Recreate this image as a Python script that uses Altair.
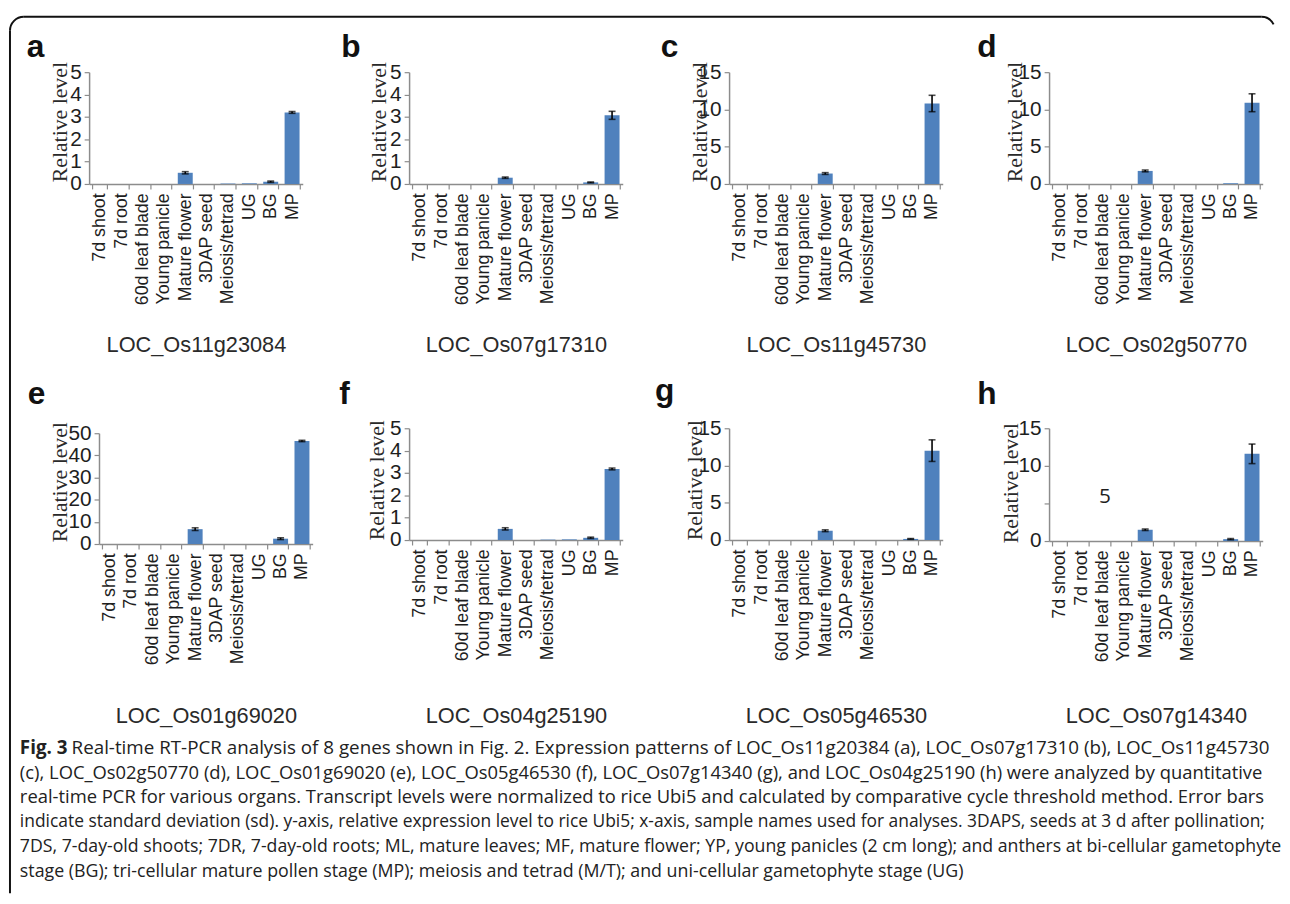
import altair as alt
import pandas as pd

# ---------------- data ----------------
categories = ["7d shoot", "7d root", "60d leaf blade", "Young panicle", "Mature flower",
              "3DAP seed", "Meiosis/tetrad", "UG", "BG", "MP"]

letters = ["a", "b", "c", "d", "e", "f", "g", "h"]
genes = ["LOC_Os11g23084", "LOC_Os07g17310", "LOC_Os11g45730", "LOC_Os02g50770",
         "LOC_Os01g69020", "LOC_Os04g25190", "LOC_Os05g46530", "LOC_Os07g14340"]

values_a = [0, 0, 0, 0, 0.50, 0, 0.02, 0.03, 0.10, 3.20]
errors_a = [0, 0, 0, 0, 0.05, 0, 0, 0, 0.03, 0.04]
values_b = [0, 0, 0, 0, 0.28, 0, 0, 0, 0.07, 3.07]
errors_b = [0, 0, 0, 0, 0.03, 0, 0, 0, 0.02, 0.18]
values_c = [0, 0, 0, 0, 1.40, 0, 0, 0, 0, 10.8]
errors_c = [0, 0, 0, 0, 0.12, 0, 0, 0, 0, 1.10]
values_d = [0, 0, 0, 0, 1.75, 0, 0, 0, 0.10, 10.9]
errors_d = [0, 0, 0, 0, 0.12, 0, 0, 0, 0, 1.20]
values_e = [0, 0, 0, 0, 6.7, 0, 0, 0, 2.4, 46.5]
errors_e = [0, 0, 0, 0, 0.6, 0, 0, 0, 0.4, 0.3]
values_f = [0, 0, 0, 0, 0.50, 0, 0.02, 0.03, 0.10, 3.18]
errors_f = [0, 0, 0, 0, 0.05, 0, 0, 0, 0.03, 0.04]
values_g = [0, 0, 0, 0, 1.25, 0, 0, 0, 0.15, 12.0]
errors_g = [0, 0, 0, 0, 0.12, 0, 0, 0, 0.05, 1.45]
values_h = [0, 0, 0, 0, 1.50, 0, 0, 0, 0.25, 11.6]
errors_h = [0, 0, 0, 0, 0.10, 0, 0, 0, 0.08, 1.30]

y_max = [5, 5, 15, 15, 50, 5, 15, 15]
y_ticks = [[0, 1, 2, 3, 4, 5], [0, 1, 2, 3, 4, 5], [0, 5, 10, 15], [0, 5, 10, 15],
           [0, 10, 20, 30, 40, 50], [0, 1, 2, 3, 4, 5], [0, 5, 10, 15], [0, 5, 10, 15]]
y_title = "Relative level"
stray_label = "5"   # panel h: the "5" tick label sits inside the plot

caption_bold = "Fig. 3"
caption_lines = [
    "Real-time RT-PCR analysis of 8 genes shown in Fig. 2. Expression patterns of LOC_Os11g20384 (a), LOC_Os07g17310 (b), LOC_Os11g45730",
    "(c), LOC_Os02g50770 (d), LOC_Os01g69020 (e), LOC_Os05g46530 (f), LOC_Os07g14340 (g), and LOC_Os04g25190 (h) were analyzed by quantitative",
    "real-time PCR for various organs. Transcript levels were normalized to rice Ubi5 and calculated by comparative cycle threshold method. Error bars",
    "indicate standard deviation (sd). y-axis, relative expression level to rice Ubi5; x-axis, sample names used for analyses. 3DAPS, seeds at 3 d after pollination;",
    "7DS, 7-day-old shoots; 7DR, 7-day-old roots; ML, mature leaves; MF, mature flower; YP, young panicles (2 cm long); and anthers at bi-cellular gametophyte",
    "stage (BG); tri-cellular mature pollen stage (MP); meiosis and tetrad (M/T); and uni-cellular gametophyte stage (UG)",
]

all_values = [values_a, values_b, values_c, values_d, values_e, values_f, values_g, values_h]
all_errors = [errors_a, errors_b, errors_c, errors_d, errors_e, errors_f, errors_g, errors_h]

# ---------------- layout (page pixels) ----------------
PW, PH = 216, 113          # plot size of each panel
H_SPACING = 107.5
V_SPACING = 247
col_x = [90 + k * (PW + H_SPACING) for k in range(4)]
row_y = [68, 68 + PH + V_SPACING]

x_range = [[0, PW]] * 4 + [[10, PW + 10], [0, PW], [0, PW], [0, PW]]
y_range = [[PH, 0]] * 4 + [[PH + 4, 5], [PH, 0], [PH, 0], [PH + 1, 0]]
x_axis_offset = [0, 0, 0, 0, 4, 0, 0, 1]
y_axis_offset = [0, 0, 0, 0, -10, 0, 0, 0]
ytitle_x = [-30, -31, -30, -35, -40, -33, -35, -39]
ytitle_y = [50, 50, 50, 50, 54, 52, 52, 55]
gene_y = [162, 162, 162, 162, 173, 177, 177, 176]
letter_pos = [(27, 53), (345, 53), (668, 53), (988, 53), (28, 403), (343, 403), (662, 400), (988, 403)]

# caption: per-line font size so each line spans the width it has in the figure
cap_sizes = [19.0, 18.6, 18.6, 17.6, 17.9, 18.0]
cap_x, cap_y0, cap_dy = 20, 751, 25.1

BLUE = "#4F81BD"
AXIS_GREY = "#8c8c8c"
TXT = "#1e1e1e"
SANS = "Liberation Sans"
SERIF = "Liberation Serif"
CAP_FONT = "Open Sans"


def origin(i):
    return col_x[i % 4], row_y[i // 4]


def panel(i):
    ox, oy = origin(i)
    df = pd.DataFrame({"cat": categories, "v": all_values[i], "e": all_errors[i]})
    df["lo"] = df["v"] - df["e"]
    df["hi"] = df["v"] + df["e"]
    xs = alt.Scale(domain=categories, range=x_range[i], paddingInner=0.3, paddingOuter=0.15)
    ys = alt.Scale(domain=[0, y_max[i]], range=y_range[i], nice=False, zero=True)
    xaxis = alt.Axis(
        orient="bottom", offset=x_axis_offset[i], title=genes[i],
        titleY=gene_y[i], titleBaseline="middle", titleFont=SANS, titleFontSize=22,
        titleFontWeight="normal", titleColor="#2a2a2a",
        labelAngle=270, labelFont=SANS, labelFontSize=18, labelColor=TXT, labelPadding=4,
        labelOverlap=False, labelBound=False, labelFlush=False,
        tickBand="extent", tickSize=5, tickColor=AXIS_GREY, domainColor=AXIS_GREY,
        domainWidth=1.5, tickWidth=1.2, grid=False,
    )
    ykw = dict(
        orient="left", offset=y_axis_offset[i], values=y_ticks[i], title=y_title,
        titleX=ytitle_x[i], titleY=ytitle_y[i], titleAngle=270, titleAlign="center",
        titleBaseline="middle", titleFont=SERIF, titleFontSize=22, titleFontWeight="normal",
        titleColor="#2a2a2a",
        labelFont=SANS, labelFontSize=21, labelColor=TXT, labelPadding=3,
        tickSize=5, tickColor=AXIS_GREY, domainColor=AXIS_GREY, domainWidth=1.5,
        tickWidth=1.2, grid=False, format="d",
    )
    if i == 7:
        ykw["labelExpr"] = "datum.value == 5 ? '' : datum.label"
    yaxis = alt.Axis(**ykw)
    X = alt.X("cat:N", sort=categories, scale=xs, axis=xaxis)
    base = alt.Chart(df)
    bars = base.mark_bar(color=BLUE).encode(
        x=X,
        y=alt.Y("v:Q", scale=ys, axis=yaxis),
    )
    eb = base.transform_filter("datum.e > 0")
    rule = eb.mark_rule(color="black", strokeWidth=1.6).encode(
        x=X,
        y=alt.Y("lo:Q", scale=ys, axis=yaxis),
        y2="hi:Q",
    )
    caps = eb.transform_fold(["lo", "hi"], as_=["k", "cap"]).mark_tick(
        color="black", thickness=1.6, size=7
    ).encode(
        x=X,
        y=alt.Y("cap:Q", scale=ys, axis=yaxis),
    )
    lx, ly = letter_pos[i]
    letter = alt.Chart(pd.DataFrame({"t": [letters[i]]})).mark_text(
        font=SANS, fontSize=32, fontWeight="bold", align="left", baseline="alphabetic", color="#111"
    ).encode(x=alt.value(lx - ox), y=alt.value(ly - oy), text="t:N")
    layers = [bars, rule, caps, letter]

    if i == 7:
        layers.append(alt.Chart(pd.DataFrame({"t": [stray_label]})).mark_text(
            font="Open Sans", fontSize=21, align="center", baseline="middle", color=TXT
        ).encode(x=alt.value(1117 - ox), y=alt.value(498 - oy), text="t:N"))

    if i == 0:
        one = pd.DataFrame({"k": [0]})
        r = 14
        L, T, R, B = 10, 12, 1275, 898
        frame_rule = dict(color="#111", strokeWidth=2)
        layers += [
            alt.Chart(one).mark_rule(**frame_rule).encode(
                x=alt.value(L - ox), y=alt.value(T + r - oy), y2=alt.value(B - oy)),
            alt.Chart(one).mark_rule(**frame_rule).encode(
                x=alt.value(L + r - ox), x2=alt.value(R - ox), y=alt.value(T - oy)),
            alt.Chart(one).mark_arc(radius=r + 1, radius2=r - 1, theta=4.7124, theta2=6.2832,
                                    color="#111").encode(
                x=alt.value(L + r - ox), y=alt.value(T + r - oy)),
            alt.Chart(one).mark_arc(radius=r + 1, radius2=r - 1, theta=0.0, theta2=1.1,
                                    color="#111").encode(
                x=alt.value(R - ox), y=alt.value(T + r - oy)),
        ]
        bold_w = cap_sizes[0] * 2.75  # width of the bold "Fig. 3 " lead-in
        for k, line in enumerate(caption_lines):
            px = cap_x + (bold_w if k == 0 else 0)
            layers.append(alt.Chart(pd.DataFrame({"t": [line]})).mark_text(
                font=CAP_FONT, fontSize=cap_sizes[k], align="left", baseline="middle", color="#222"
            ).encode(x=alt.value(px - ox), y=alt.value(cap_y0 + k * cap_dy - oy), text="t:N"))
        layers.append(alt.Chart(pd.DataFrame({"t": [caption_bold]})).mark_text(
            font=CAP_FONT, fontSize=cap_sizes[0], fontWeight="bold", align="left",
            baseline="middle", color="#222"
        ).encode(x=alt.value(cap_x - ox), y=alt.value(cap_y0 - oy), text="t:N"))
    return alt.layer(*layers).properties(width=PW, height=PH)


panels = [panel(i) for i in range(8)]

chart = alt.concat(
    *panels, columns=4, spacing={"row": V_SPACING, "column": H_SPACING}, bounds="flush"
).properties(
    padding={"left": 1, "top": 3, "right": 0, "bottom": 0},
    background="white",
).configure_view(stroke=None)

chart.save("out.html", embed_options={"renderer": "svg", "actions": False})
